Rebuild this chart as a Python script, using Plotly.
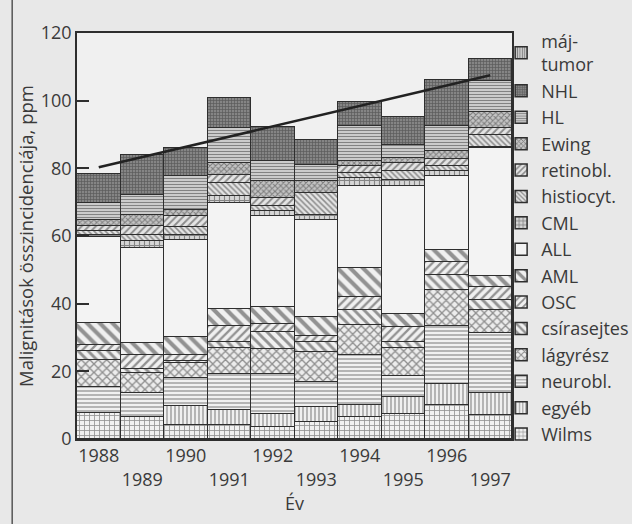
import plotly.graph_objects as go

years = [1988, 1989, 1990, 1991, 1992, 1993, 1994, 1995, 1996, 1997]
tick_text = ["1988", "<br>1989", "1990", "<br>1991", "1992",
             "<br>1993", "1994", "<br>1995", "1996", "<br>1997"]

# Incidence per tumour type (ppm), listed from the bottom of each stack upwards
wilms    = [7.6, 6.6, 4.1, 4.1, 3.5, 5.1, 6.6, 7.5, 10.0, 7.1]
egyeb    = [0.0, 0.0, 5.6, 4.5, 3.8, 4.5, 3.4, 5.0, 6.3, 6.4]
neurobl  = [7.9, 7.0, 8.2, 10.6, 11.9, 7.2, 14.8, 6.0, 17.2, 17.9]
lagyresz = [7.8, 6.0, 4.5, 7.7, 7.5, 9.0, 9.0, 8.3, 10.5, 6.8]
csira    = [2.8, 1.0, 0.8, 1.9, 4.8, 3.0, 4.3, 2.0, 4.4, 2.9]
osc      = [1.7, 4.2, 1.6, 4.7, 2.6, 1.5, 3.9, 4.4, 3.8, 3.9]
aml      = [6.4, 3.7, 5.4, 4.8, 5.0, 5.9, 8.4, 3.6, 3.8, 3.2]
all_     = [25.4, 28.0, 28.5, 31.5, 26.7, 28.4, 24.3, 37.9, 21.6, 37.8]
cml      = [0.8, 1.9, 1.6, 1.9, 1.5, 1.7, 2.4, 2.0, 1.5, 0.4]
histio   = [1.2, 2.0, 2.5, 4.0, 1.5, 6.4, 1.5, 2.4, 1.5, 3.4]
retino   = [1.3, 2.5, 3.0, 2.4, 2.4, 0.0, 2.0, 2.5, 2.2, 2.1]
ewing    = [1.9, 3.4, 2.0, 3.5, 5.0, 3.5, 1.5, 1.5, 2.2, 4.8]
hl       = [5.0, 5.9, 9.8, 10.3, 5.9, 4.9, 10.3, 3.9, 7.4, 9.0]
nhl      = [8.6, 11.8, 8.4, 8.9, 10.1, 7.4, 7.1, 8.2, 13.6, 6.6]
majtumor = [0.0, 0.0, 0.0, 0.0, 0.0, 0.0, 0.0, 0.0, 0.0, 0.0]

# Linear trend of the total incidence
trend_years = [1988, 1997]
trend_vals = [80.3, 107.5]

INK = "#2e2e2e"
series = [
    ("Wilms", wilms, dict(shape="+", size=5, solidity=0.3), "#f0f0f0"),
    ("egyéb", egyeb, dict(shape="|", size=4, solidity=0.32), "#f0f0f0"),
    ("neurobl.", neurobl, dict(shape="-", size=4, solidity=0.32), "#f0f0f0"),
    ("lágyrész", lagyresz, dict(shape="x", size=6, solidity=0.4), "#ececec"),
    ("csírasejtes", csira, dict(shape="\\", size=7, solidity=0.42), "#f0f0f0"),
    ("OSC", osc, dict(shape="/", size=6, solidity=0.38), "#f0f0f0"),
    ("AML", aml, dict(shape="\\", size=9, solidity=0.45), "#f0f0f0"),
    ("ALL", all_, None, "#f3f3f3"),
    ("CML", cml, dict(shape="+", size=5, solidity=0.4), "#d6d6d6"),
    ("histiocyt.", histio, dict(shape="\\", size=4, solidity=0.38), "#e4e4e4"),
    ("retinobl.", retino, dict(shape="/", size=5, solidity=0.38), "#e4e4e4"),
    ("Ewing", ewing, dict(shape="x", size=4, solidity=0.45), "#c4c4c4"),
    ("HL", hl, dict(shape="-", size=3, solidity=0.38), "#d0d0d0"),
    ("NHL", nhl, dict(shape="+", size=3, solidity=0.42), "#858585"),
    ("máj-<br>tumor", majtumor, dict(shape="|", size=3, solidity=0.38), "#cccccc"),
]

fig = go.Figure()
for name, vals, pat, bg in series:
    marker = dict(color=bg, line=dict(color=INK, width=1.5))
    if pat:
        marker["pattern"] = dict(fgcolor="#333333", fillmode="overlay", **pat)
    fig.add_trace(go.Bar(x=years, y=vals, name=name, marker=marker))

fig.add_trace(go.Scatter(x=trend_years, y=trend_vals, mode="lines",
                         line=dict(color="#222222", width=2.5),
                         showlegend=False, hoverinfo="skip"))

font_family = "Open Sans, Noto Sans, sans-serif"
fig.update_layout(
    width=632, height=524,
    barmode="stack", bargap=0,
    paper_bgcolor="#e8e8e8", plot_bgcolor="#f0f0f0",
    margin=dict(l=77, r=120, t=33, b=85, autoexpand=False),
    font=dict(family=font_family, size=18, color="#3a3a3a"),
    legend=dict(
        x=0.975, y=1.025, xanchor="left", yanchor="top",
        traceorder="reversed", maxheight=560,
        font=dict(size=18, color="#3a3a3a"),
        bgcolor="rgba(0,0,0,0)", itemwidth=30,
    ),
    xaxis=dict(
        range=[1987.5, 1997.5], tickvals=years, ticktext=tick_text,
        tickangle=0,
        showgrid=False, zeroline=False, ticks="",
        showline=True, linecolor=INK, linewidth=1.5, mirror=True,
        title=dict(text="Év", font=dict(size=18), standoff=4),
        tickfont=dict(size=18),
    ),
    yaxis=dict(
        range=[0, 120], tickvals=[0, 20, 40, 60, 80, 100, 120],
        showgrid=False, zeroline=False,
        ticks="inside", ticklen=12, tickwidth=1.5, tickcolor=INK,
        showline=True, linecolor=INK, linewidth=1.5, mirror=True,
        title=dict(text="Malignitások összincidenciája, ppm",
                   font=dict(size=18.5), standoff=2),
        tickfont=dict(size=18),
    ),
    shapes=[dict(type="line", xref="paper", yref="paper",
                 x0=-0.149, x1=-0.149, y0=-0.25, y1=1.1,
                 line=dict(color="#555555", width=1.5), layer="below")],
)

fig.write_html("out.html")
